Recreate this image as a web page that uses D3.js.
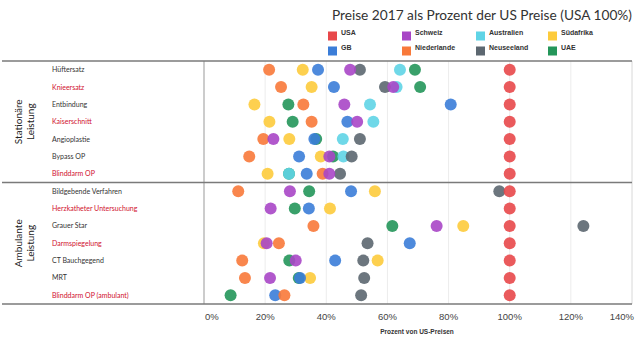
<!DOCTYPE html>
<html><head><meta charset="utf-8">
<script src="https://cdn.jsdelivr.net/npm/d3@7"></script>
<style>html,body{margin:0;padding:0;background:#fff;}svg{display:block;}</style>
</head><body>
<svg id="chart" width="640" height="339"></svg>
<script>
const rows = ["Hüftersatz","Knieersatz","Entbindung","Kaiserschnitt","Angioplastie","Bypass OP","Blinddarm OP",
  "Bildgebende Verfahren","Herzkatheter Untersuchung","Grauer Star","Darmspiegelung","CT Bauchgegend","MRT","Blinddarm OP (ambulant)"];
const redRows = ["Knieersatz","Kaiserschnitt","Blinddarm OP","Herzkatheter Untersuchung","Darmspiegelung","Blinddarm OP (ambulant)"];
const groups = [["Stationäre","Leistung"],["Ambulante","Leistung"]];
const groupRows = [[0,6],[7,13]];

const seriesNames = ["USA","GB","Schweiz","Niederlande","Australien","Neuseeland","Südafrika","UAE"];
const usa         = [100,100,100,100,100,100,100,100,100,100,100,100,100,100];
const gb          = [37.3,42.5,80.7,46.9,36.1,31.1,33.6,48.1,34.3,null,67.3,42.9,31.4,23.3];
const schweiz     = [47.8,61.9,45.9,50.1,22.7,41.0,41.0,28.1,21.8,76.1,20.5,30.0,21.6,null];
const niederlande = [21.3,25.2,32.5,35.2,19.4,14.8,38.8,11.2,null,35.8,24.5,12.5,13.4,26.3];
const australien  = [64.1,63.0,54.3,55.4,45.4,45.6,27.8,null,null,null,null,null,null,null];
const neuseeland  = [51.0,59.2,null,null,51.0,48.3,44.5,96.6,null,124.1,53.5,52.1,52.4,51.4];
const suedafrika  = [32.3,35.2,16.5,21.4,27.9,38.2,20.8,55.9,41.2,84.8,19.6,56.8,34.7,null];
const uae         = [69.0,70.7,27.6,29.0,36.7,42.2,27.8,34.4,29.7,61.6,null,27.9,31.0,8.7];
const seriesValues = [usa,gb,schweiz,niederlande,australien,neuseeland,suedafrika,uae];
const colors = ["#e8484a","#3b7dd8","#a846c6","#f8793a","#5fd4e6","#5c6770","#fdcb3c","#24965a"];
const drawOrder = ["UAE","Australien","Südafrika","Neuseeland","GB","Niederlande","Schweiz","USA"];
const ticks = [0,20,40,60,80,100,120,140];

const svg = d3.select("#chart");
const L = 204, R = 632, T = 61, B = 304;
const x = d3.scaleLinear().domain([0,140]).range([L,R]);
const y = d3.scaleBand().domain(rows).range([T,B]);
const color = d3.scaleOrdinal().domain(seriesNames).range(colors);

// title
svg.append("text").attr("x",632).attr("y",20).attr("text-anchor","end")
  .attr("font-family","Lato, sans-serif").attr("font-size",13.7).attr("fill","#333")
  .text("Preise 2017 als Prozent der US Preise (USA 100%)");

// legend (column-major, 2 rows)
const legX = [328,402,476,548], legY = [36,51];
seriesNames.forEach((s,i)=>{
  const c = Math.floor(i/2), r = i%2;
  svg.append("rect").attr("x",legX[c]).attr("y",legY[r]-4.5).attr("width",9).attr("height",9).attr("fill",color(s));
  svg.append("text").attr("x",legX[c]+13).attr("y",legY[r]-1.5)
    .attr("font-family","Liberation Sans, Arial, sans-serif").attr("font-weight","bold")
    .attr("font-size",7).attr("fill","#333").text(s);
});

// gridlines
svg.append("g").selectAll("line").data(ticks.slice(1)).join("line")
  .attr("x1",d=>x(d)).attr("x2",d=>x(d)).attr("y1",T).attr("y2",B)
  .attr("stroke",d=>d===140?"#d8d8d8":"#ececec").attr("stroke-width",1);

// frame lines
svg.append("line").attr("x1",L).attr("x2",L).attr("y1",T).attr("y2",B).attr("stroke","#999").attr("stroke-width",1);
const sepY = [T, (y(rows[6])+y.bandwidth()+y(rows[7]))/2, B];
sepY.forEach(v=>{
  svg.append("line").attr("x1",2).attr("x2",R).attr("y1",v).attr("y2",v).attr("stroke","#7a7a7a").attr("stroke-width",1.5);
});

// row labels
svg.append("g").selectAll("text").data(rows).join("text")
  .attr("x",52).attr("y",d=>y(d)+y.bandwidth()/2+2.5)
  .attr("font-family","Lato, sans-serif").attr("font-size",7)
  .attr("fill",d=>redRows.includes(d)?"#d0102e":"#333").text(d=>d);

// group labels
groups.forEach((g,i)=>{
  const cy = (y(rows[groupRows[i][0]]) + y(rows[groupRows[i][1]]) + y.bandwidth())/2;
  const t = svg.append("text").attr("transform",`translate(24,${cy}) rotate(-90)`)
    .attr("text-anchor","middle").attr("font-family","Lato, sans-serif").attr("font-size",10).attr("fill","#222");
  t.append("tspan").attr("x",0).attr("dy",-2).text(g[0]);
  t.append("tspan").attr("x",0).attr("dy",12).text(g[1]);
});

// dots
drawOrder.forEach(s=>{
  const vals = seriesValues[seriesNames.indexOf(s)];
  const pts = rows.map((r,i)=>({r, v: vals[i]})).filter(d=>d.v!=null);
  svg.append("g").selectAll("circle").data(pts).join("circle")
    .attr("cx",d=>x(d.v)).attr("cy",d=>y(d.r)+y.bandwidth()/2).attr("r",6)
    .attr("fill",color(s)).attr("fill-opacity",0.9);
});

// x axis tick labels
svg.append("g").selectAll("text").data(ticks).join("text")
  .attr("x",d=>d===0?x(d)+1:(d===140?x(d)+2:x(d)))
  .attr("text-anchor",d=>d===0?"start":(d===140?"end":"middle"))
  .attr("y",320).attr("font-family","Liberation Sans, Arial, sans-serif").attr("font-size",9.5).attr("fill","#444")
  .text(d=>d+"%");

svg.append("text").attr("x",417).attr("y",334).attr("text-anchor","middle")
  .attr("font-family","Liberation Sans, Arial, sans-serif").attr("font-weight","bold").attr("font-size",6.5).attr("fill","#333")
  .text("Prozent von US-Preisen");
</script>
</body></html>
